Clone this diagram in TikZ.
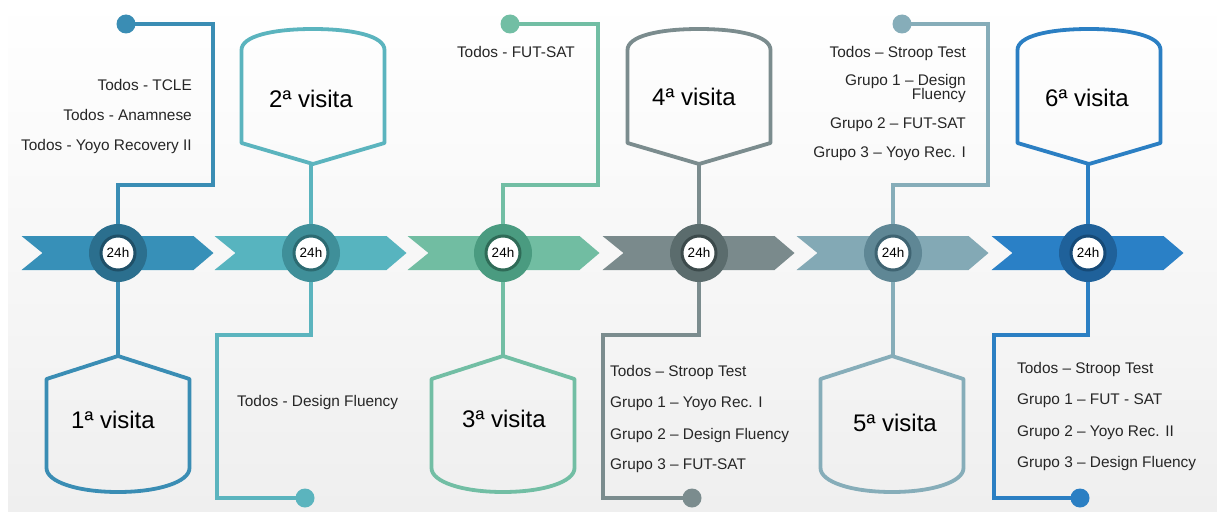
\documentclass[tikz,border=0pt]{standalone}
\usepackage{fontspec}
\setmainfont{Liberation Sans}
\usetikzlibrary{calc}

% stage colours: arrow body, ring, inner ring, line
\definecolor{arrA}{HTML}{3790B8}\definecolor{ringA}{HTML}{2B6F8E}\definecolor{inA}{HTML}{1F5068}\definecolor{lnA}{HTML}{3A8DB4}
\definecolor{arrB}{HTML}{57B4BF}\definecolor{ringB}{HTML}{3F8F99}\definecolor{inB}{HTML}{2C6B72}\definecolor{lnB}{HTML}{5BB4BE}
\definecolor{arrC}{HTML}{71BDA2}\definecolor{ringC}{HTML}{4A9B80}\definecolor{inC}{HTML}{2F6B57}\definecolor{lnC}{HTML}{72BEA4}
\definecolor{arrD}{HTML}{7A8A8C}\definecolor{ringD}{HTML}{5B6C6D}\definecolor{inD}{HTML}{3C4A4B}\definecolor{lnD}{HTML}{7B8C8E}
\definecolor{arrE}{HTML}{83A9B5}\definecolor{ringE}{HTML}{5F8795}\definecolor{inE}{HTML}{3F6472}\definecolor{lnE}{HTML}{86ADB9}
\definecolor{arrF}{HTML}{2A80C6}\definecolor{ringF}{HTML}{1F619A}\definecolor{inF}{HTML}{164A77}\definecolor{lnF}{HTML}{2B7FC3}
\definecolor{labeltxt}{HTML}{262626}
\definecolor{bgbottom}{HTML}{EFEFEF}

\tikzset{
  link/.style={line width=3.3pt, line join=miter},
  dot/.style={circle, inner sep=0pt, minimum size=19pt},
  ring/.style={circle, inner sep=0pt, minimum size=58pt},
  hub/.style={circle, inner sep=0pt, minimum size=34pt, fill=white, line width=3pt,
    font=\fontsize{13.5}{15}\selectfont, text=black},
  lbl/.style={inner sep=0pt, font=\fontsize{15.4}{19}\selectfont, text=labeltxt},
  visit/.style={inner sep=0pt, anchor=base, font=\fontsize{24}{28}\selectfont, text=black},
  outline/.style={line width=3.8pt, line join=round},
  % visit box hanging above the timeline
  topvisit/.pic={
    \draw[outline] (0,164) -- (71.5,143) -- (71.5,50)
      .. controls (71.5,36) and (40,29) .. (0,29)
      .. controls (-40,29) and (-71.5,36) .. (-71.5,50) -- (-71.5,143) -- cycle;
  },
  % visit box standing below the timeline
  botvisit/.pic={
    \draw[outline] (0,356) -- (71.5,379) -- (71.5,468)
      .. controls (71.5,482) and (40,492) .. (0,492)
      .. controls (-40,492) and (-71.5,482) .. (-71.5,468) -- (-71.5,379) -- cycle;
  },
  % chevron segment of the timeline
  chevron/.pic={
    \fill (0,236) -- (172,236) -- (192,253) -- (172,270) -- (0,270) -- (21,253) -- cycle;
  },
}

\begin{document}
\begin{tikzpicture}[x=1pt,y=-1pt]
\useasboundingbox (0,0) rectangle (1217,511);
\fill[white] (0,0) rectangle (1217,511);
\shade[top color=white, bottom color=bgbottom] (8,0) rectangle (1217,511);

% ---- corner points of the connectors and box apexes
\coordinate (k1a) at (213,24);  \coordinate (k1b) at (213,185);
\coordinate (k2a) at (217,335); \coordinate (k2b) at (217,498);
\coordinate (k3a) at (598,24);  \coordinate (k3b) at (598,185);
\coordinate (k4a) at (603,335); \coordinate (k4b) at (603,498);
\coordinate (k5a) at (988,24);  \coordinate (k5b) at (988,185);
\coordinate (k6a) at (994,335); \coordinate (k6b) at (994,498);
\coordinate (a1) at (118,356);
\coordinate (a2) at (311,164);
\coordinate (a3) at (503,356);
\coordinate (a4) at (699,164);
\coordinate (a5) at (893,356);
\coordinate (a6) at (1088,164);

% ---- timeline chevrons
\pic[color=arrA] at (21.5,0) {chevron};
\pic[color=arrB] at (214.5,0) {chevron};
\pic[color=arrC] at (407.5,0) {chevron};
\pic[color=arrD] at (602.5,0) {chevron};
\pic[color=arrE] at (796.5,0) {chevron};
\pic[color=arrF] at (991.5,0) {chevron};

% ---- hubs
\node[ring, fill=ringA] (c1) at (118,253) {};
\node[ring, fill=ringB] (c2) at (311,253) {};
\node[ring, fill=ringC] (c3) at (503,253) {};
\node[ring, fill=ringD] (c4) at (699,253) {};
\node[ring, fill=ringE] (c5) at (893,253) {};
\node[ring, fill=ringF] (c6) at (1088,253) {};
\node[hub, draw=inA] (h1) at (c1) {24h};
\node[hub, draw=inB] (h2) at (c2) {24h};
\node[hub, draw=inC] (h3) at (c3) {24h};
\node[hub, draw=inD] (h4) at (c4) {24h};
\node[hub, draw=inE] (h5) at (c5) {24h};
\node[hub, draw=inF] (h6) at (c6) {24h};

% ---- end dots
\node[dot, fill=lnA] (d1) at (126,24) {};
\node[dot, fill=lnB] (d2) at (305,498) {};
\node[dot, fill=lnC] (d3) at (510,24) {};
\node[dot, fill=lnD] (d4) at (692,498) {};
\node[dot, fill=lnE] (d5) at (902,24) {};
\node[dot, fill=lnF] (d6) at (1080,498) {};

% ---- connectors from the hubs to the test lists
\draw[link, lnA] (d1.center) -- (k1a) -- (k1b) -| (c1.north);
\draw[link, lnB] (c2.south) |- (k2a) -- (k2b) -- (d2.center);
\draw[link, lnC] (d3.center) -- (k3a) -- (k3b) -| (c3.north);
\draw[link, lnD] (c4.south) |- (k4a) -- (k4b) -- (d4.center);
\draw[link, lnE] (d5.center) -- (k5a) -- (k5b) -| (c5.north);
\draw[link, lnF] (c6.south) |- (k6a) -- (k6b) -- (d6.center);

% ---- connectors from the hubs to the visit boxes
\draw[link, lnA] (c1.south) -- (a1);
\draw[link, lnB] (c2.north) -- (a2);
\draw[link, lnC] (c3.south) -- (a3);
\draw[link, lnD] (c4.north) -- (a4);
\draw[link, lnE] (c5.south) -- (a5);
\draw[link, lnF] (c6.north) -- (a6);

% ---- visit boxes
\pic[color=lnA] at (118,0) {botvisit};
\pic[color=lnB] at (313,0) {topvisit};
\pic[color=lnC] at (503,0) {botvisit};
\pic[color=lnD] at (699,0) {topvisit};
\pic[color=lnE] at (892,0) {botvisit};
\pic[color=lnF] at (1089,0) {topvisit};
\node[visit] (v1) at (113,428) {1ª visita};
\node[visit] (v2) at (311,107) {2ª visita};
\node[visit] (v3) at (504,427) {3ª visita};
\node[visit] (v4) at (694,105) {4ª visita};
\node[visit] (v5) at (895,431) {5ª visita};
\node[visit] (v6) at (1087,106) {6ª visita};

% ---- test lists
\node[lbl, anchor=base east] (t1a) at (192,90)  {Todos - TCLE};
\node[lbl, anchor=base east] (t1b) at (192,120) {Todos - Anamnese};
\node[lbl, anchor=base east] (t1c) at (192,150) {Todos - Yoyo Recovery II};

\node[lbl, anchor=base west] (t2a) at (237,406) {Todos - Design Fluency};

\node[lbl, anchor=base east] (t3a) at (575,58) {Todos - FUT-SAT};

\node[lbl, anchor=base west] (t4a) at (610,376) {Todos – Stroop Test};
\node[lbl, anchor=base west] (t4b) at (610,407) {Grupo 1 – Yoyo Rec. I};
\node[lbl, anchor=base west] (t4c) at (610,439) {Grupo 2 – Design Fluency};
\node[lbl, anchor=base west] (t4d) at (610,469) {Grupo 3 – FUT-SAT};

\node[lbl, anchor=base east] (t5a) at (966,57)  {Todos – Stroop Test};
\node[lbl, anchor=base east] (t5b) at (966,85)  {Grupo 1 – Design};
\node[lbl, anchor=base east] (t5c) at (966,99)  {Fluency};
\node[lbl, anchor=base east] (t5d) at (966,128) {Grupo 2 – FUT-SAT};
\node[lbl, anchor=base east] (t5e) at (966,157) {Grupo 3 – Yoyo Rec. I};

\node[lbl, anchor=base west] (t6a) at (1017,373) {Todos – Stroop Test};
\node[lbl, anchor=base west] (t6b) at (1017,404) {Grupo 1 – FUT - SAT};
\node[lbl, anchor=base west] (t6c) at (1017,436) {Grupo 2 – Yoyo Rec. II};
\node[lbl, anchor=base west] (t6d) at (1017,467) {Grupo 3 – Design Fluency};
\end{tikzpicture}
\end{document}
